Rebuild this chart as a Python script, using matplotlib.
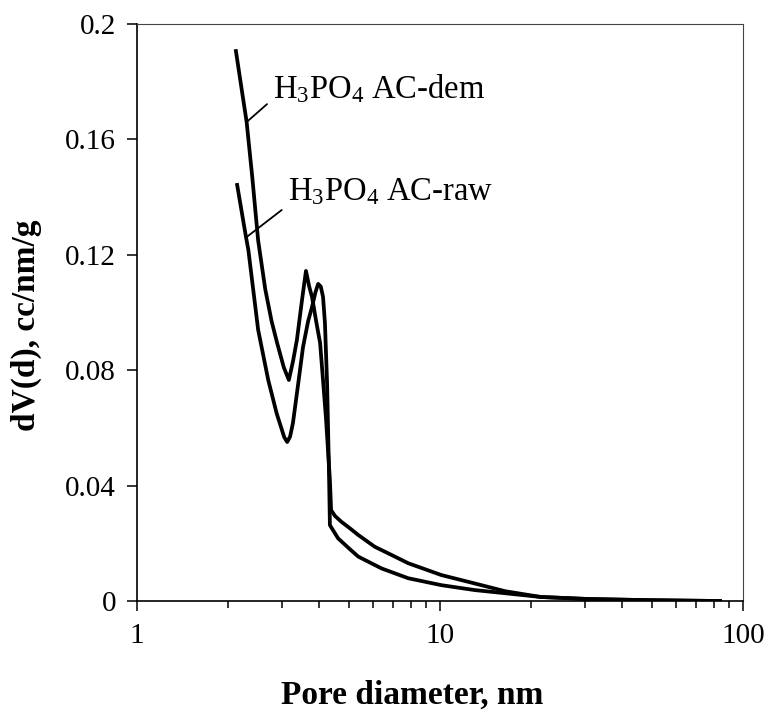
import matplotlib
matplotlib.use("Agg")
import matplotlib.pyplot as plt
from matplotlib.ticker import FixedLocator, LogLocator, NullFormatter

# pore size distribution
dem_d = [2.12, 2.21, 2.30, 2.40, 2.51, 2.65, 2.78, 2.90, 3.05, 3.17, 3.27, 3.37, 3.50, 3.61,
         3.70, 3.78, 3.90, 4.02, 4.20, 4.33, 4.37, 4.50, 4.72, 5.00, 5.37, 6.09, 7.00, 7.85,
         10.1, 13.0, 16.4, 21.5, 30.8, 48.6, 84.0]
dem_v = [0.1906, 0.178, 0.166, 0.147, 0.125, 0.108, 0.097, 0.0894, 0.081, 0.0766, 0.083, 0.0905, 0.104, 0.1144,
         0.109, 0.1054, 0.097, 0.0894, 0.0638, 0.042, 0.0315, 0.0295, 0.0275, 0.0255, 0.0229, 0.0188, 0.0157, 0.0131,
         0.0090, 0.0061, 0.0034, 0.0014, 0.0007, 0.0003, 0.0]

raw_d = [2.14, 2.29, 2.33, 2.51, 2.71, 2.89, 3.06, 3.13, 3.20, 3.27, 3.40, 3.53, 3.67, 3.78,
         3.88, 3.96, 4.04, 4.11, 4.17, 4.24, 4.30, 4.33, 4.61, 5.00, 5.37, 6.41, 7.85, 10.1,
         13.0, 16.4, 21.5, 30.8, 48.6, 84.0]
raw_v = [0.1442, 0.126, 0.1217, 0.094, 0.0766, 0.065, 0.0568, 0.0551, 0.057, 0.0617, 0.075, 0.088, 0.097, 0.1019,
         0.107, 0.1099, 0.109, 0.1054, 0.0964, 0.075, 0.045, 0.0263, 0.0217, 0.0183, 0.0154, 0.0113, 0.0079, 0.0055,
         0.0038, 0.0027, 0.0014, 0.0007, 0.0003, 0.0]

y_ticks = [0, 0.04, 0.08, 0.12, 0.16, 0.2]
y_ticklabels = ["0", "0.04", "0.08", "0.12", "0.16", "0.2"]
x_ticks = [1, 10, 100]
x_ticklabels = ["1", "10", "100"]

plt.rcParams["font.family"] = "Liberation Serif"
plt.rcParams["mathtext.fontset"] = "custom"
plt.rcParams["mathtext.rm"] = "Liberation Serif"
plt.rcParams["mathtext.default"] = "regular"

fig = plt.figure(figsize=(7.72, 7.25), dpi=100)
ax = fig.add_axes([0.1775, 0.171, 0.785, 0.796])

ax.plot(dem_d, dem_v, color="k", lw=2.7, solid_joinstyle="round")
ax.plot(raw_d, raw_v, color="k", lw=2.7, solid_joinstyle="round")

ax.set_xscale("log")
ax.set_xlim(1, 100)
ax.set_ylim(0, 0.2)

ax.xaxis.set_major_locator(FixedLocator(x_ticks))
ax.set_xticklabels(x_ticklabels)
ax.xaxis.set_minor_locator(LogLocator(base=10, subs=range(2, 10)))
ax.xaxis.set_minor_formatter(NullFormatter())
ax.set_yticks(y_ticks)
ax.set_yticklabels(y_ticklabels)

ax.tick_params(axis="both", which="major", direction="out", length=7, width=1.1,
               labelsize=21, top=False, right=False)
ax.tick_params(axis="x", which="major", pad=9)
ax.tick_params(axis="y", which="major", pad=8)
ax.tick_params(axis="x", which="minor", direction="out", length=5, width=1.1, top=False)

for s in ["left", "bottom"]:
    ax.spines[s].set_linewidth(1.2)
for s in ["top", "right"]:
    ax.spines[s].set_linewidth(0.8)
    ax.spines[s].set_color("#444444")

ax.set_xlabel("Pore diameter, nm", fontsize=24, fontweight="bold")
ax.set_ylabel("dV(d), cc/nm/g", fontsize=24, fontweight="bold")
ax.xaxis.set_label_coords(0.454, -0.163)
ax.yaxis.set_label_coords(-0.183, 0.478)
ax.xaxis.label.set_va("center")
ax.yaxis.label.set_va("center")

# leader lines and labels
ax.annotate("", xy=(dem_d[2], dem_v[2]), xytext=(0.2145, 0.861), textcoords="axes fraction",
            arrowprops=dict(arrowstyle="-", lw=1.3, color="k", shrinkA=0, shrinkB=0))
ax.text(0.2244, 0.887, r"H$_3$PO$_4$ AC-dem", transform=ax.transAxes, fontsize=23.5, va="center")
ax.annotate("", xy=(raw_d[1], raw_v[1]), xytext=(0.2388, 0.6776), textcoords="axes fraction",
            arrowprops=dict(arrowstyle="-", lw=1.3, color="k", shrinkA=0, shrinkB=0))
ax.text(0.249, 0.709, r"H$_3$PO$_4$ AC-raw", transform=ax.transAxes, fontsize=23.5, va="center")

fig.savefig("out.png", dpi=100)
